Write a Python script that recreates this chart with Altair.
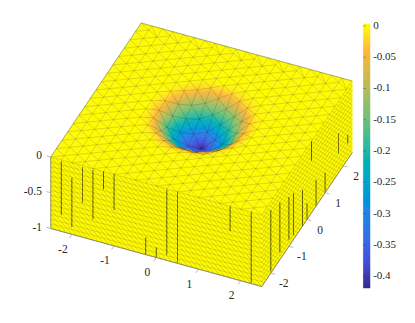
import altair as alt

# ---- readings from the picture ----
X_TICKS = [-2, -1, 0, 1, 2]
Y_TICKS = [-2, -1, 0, 1, 2]
Z_TICKS = [0, -0.5, -1]
CBAR_TICKS = [-0.4, -0.35, -0.3, -0.25, -0.2, -0.15, -0.1, -0.05, 0]
CBAR_DOMAIN = [-0.419, 0.003]
CBAR_COLORS = ["#372a8e", "#4350d8", "#3670e6", "#2289e0", "#0fa5c9", "#1bb3aa",
               "#55bf85", "#93bf6c", "#ccb952", "#fdb83a", "#ffff00"]

# surface heights at mesh nodes, zero elsewhere
EVEN_COL_X = [-1.0, -0.5, 0.0, 0.5, 1.0]          # y = -1.25 ... 1.25 step .3125
EVEN_COL_Z = [
    [0, 0, -.008, -.028, -.04, -.022, -.006, 0, 0],
    [0, -.03, -.15, -.25, -.27, -.195, -.125, -.025, 0],
    [0, -.07, -.22, -.345, -.419, -.30, -.18, -.065, 0],
    [0, -.03, -.15, -.25, -.27, -.195, -.125, -.025, 0],
    [0, 0, -.008, -.028, -.04, -.022, -.006, 0, 0],
]
ODD_COL_X = [-0.75, -0.25, 0.25, 0.75]   # y = -1.40625 ... 1.40625 step .3125
ODD_COL_Z = [
    [0, 0, -.022, -.11, -.18, -.14, -.09, -.018, 0, 0],
    [0, -.02, -.14, -.28, -.36, -.31, -.215, -.115, -.015, 0],
    [0, -.02, -.14, -.28, -.36, -.31, -.215, -.115, -.015, 0],
    [0, 0, -.022, -.11, -.18, -.14, -.09, -.018, 0, 0],
]
# darker vertical edges seen on the walls: (position, z top, z bottom)
FRONT_WALL_DARK = [(-2.25, -.02, -.77), (-2.0, -.21, -.9), (-1.75, -.02, -.52), (-1.5, -.02, -.71),
                   (-1.25, 0, -.25), (-1.0, 0, -.5), (-.25, -.76, -1), (0, -.86, -1), (.25, -.01, -.92),
                   (.5, -.01, -.99), (1.75, 0, -.35), (2.25, 0, -.99)]
RIGHT_WALL_DARK = [(-2, -.12, -.98), (-1.5, -.2, -.9), (-1, -.31, -.91), (-.75, -.35, -.94),
                   (-.25, -.49, -1), (0, -.77, -1), (.25, 0, -.27), (.5, -.63, -1), (1, -.72, -1),
                   (1.75, -.45, -.73), (2.25, -.66, -.78)]
X_MIN, X_MAX = -2.5, 2.5
N_COLS, N_ROWS = 21, 17
WALL_LAYERS = 15
BAR_STEPS = 132
FONT = "Liberation Serif"
INK = "#262626"


def proj(x, y, z=0.0):
    return [201.5 + 42.2 * x + 18.1 * y, 119.0 + 11.6 * x - 26.8 * y - 71.5 * z]


def depth(x, y, z):
    return 1294 * x - 3017 * y + 1341 * z


heights = {}
for cx, row in zip(EVEN_COL_X, EVEN_COL_Z):
    for j, v in enumerate(row):
        heights[(round(cx, 4), round(-1.25 + .3125 * j, 5))] = v
for cx, row in zip(ODD_COL_X, ODD_COL_Z):
    for j, v in enumerate(row):
        heights[(round(cx, 4), round(-1.40625 + .3125 * j, 5))] = v


def node(x, y):
    return (x, y, heights.get((round(x, 4), round(y, 5)), 0.0))


h = (X_MAX - X_MIN) / (N_ROWS - 1)
dx = (X_MAX - X_MIN) / (N_COLS - 1)
columns = []
for i in range(N_COLS):
    x = X_MIN + i * dx
    if i % 2 == 0:
        ys = [X_MIN + j * h for j in range(N_ROWS)]
    else:
        ys = [X_MIN] + [X_MIN + h / 2 + j * h for j in range(N_ROWS - 1)] + [X_MAX]
    columns.append([node(x, y) for y in ys])

tris = []
for a, b in zip(columns[:-1], columns[1:]):
    i, j = 0, 0
    while i < len(a) - 1 or j < len(b) - 1:
        if j == len(b) - 1 or (i < len(a) - 1 and a[i + 1][1] <= b[j + 1][1]):
            tris.append((a[i], b[j], a[i + 1]))
            i += 1
        else:
            tris.append((a[i], b[j], b[j + 1]))
            j += 1


def area(t):
    p = [proj(*n) for n in t]
    return (p[1][0] - p[0][0]) * (p[2][1] - p[0][1]) - (p[1][1] - p[0][1]) * (p[2][0] - p[0][0])


flat_sign = area(((0, 0, 0), (1, 0, 0), (0, 1, 0)))
polys = []
edges = {}
SUB = 6


def mix(t, u, v):
    w = 1 - u - v
    return tuple(t[0][k] * w + t[1][k] * u + t[2][k] * v for k in range(3))


def add_poly(t):
    zm = sum(n[2] for n in t) / 3
    d = depth(sum(n[0] for n in t) / 3, sum(n[1] for n in t) / 3, zm)
    ring = [proj(*n) for n in t] + [proj(*t[0])]
    polys.append((d, {"type": "Feature", "z": round(zm, 4),
                      "geometry": {"type": "Polygon", "coordinates": [ring]}}))


for t in tris:
    if area(t) * flat_sign <= 0:
        continue
    for p, q in ((t[0], t[1]), (t[1], t[2]), (t[2], t[0])):
        edges[tuple(sorted((p, q)))] = (p, q)
    if all(n[2] == 0 for n in t):
        add_poly(t)
    else:
        for i in range(SUB):
            for j in range(SUB - i):
                add_poly((mix(t, i / SUB, j / SUB), mix(t, (i + 1) / SUB, j / SUB), mix(t, i / SUB, (j + 1) / SUB)))
                if i + j < SUB - 1:
                    add_poly((mix(t, (i + 1) / SUB, j / SUB), mix(t, (i + 1) / SUB, (j + 1) / SUB),
                              mix(t, i / SUB, (j + 1) / SUB)))
polys.sort(key=lambda r: r[0])


def line(points):
    return {"type": "Feature", "geometry": {"type": "LineString", "coordinates": points}}


def wall_pt(side, s, z):
    return proj(s, X_MIN, z) if side == 0 else proj(X_MAX, s, z)


walls = []
for side in (0, 1):
    ring = [wall_pt(side, X_MIN, 0), wall_pt(side, X_MAX, 0), wall_pt(side, X_MAX, -1),
            wall_pt(side, X_MIN, -1), wall_pt(side, X_MIN, 0)]
    walls.append({"type": "Feature", "z": 0, "geometry": {"type": "Polygon", "coordinates": [ring]}})

wall_lines = []
for side in (0, 1):
    for k in range(WALL_LAYERS):
        z0, z1 = -k / WALL_LAYERS, -(k + 1) / WALL_LAYERS
        wall_lines.append(line([wall_pt(side, X_MIN, z1), wall_pt(side, X_MAX, z1)]))
        m = 40
        for c in range(m):
            s0 = X_MIN + c * (X_MAX - X_MIN) / m
            s1 = s0 + (X_MAX - X_MIN) / m
            wall_lines.append(line([wall_pt(side, s0, z0), wall_pt(side, s1, z1)]))

dark_lines = [line([wall_pt(0, s, a), wall_pt(0, s, b)]) for s, a, b in FRONT_WALL_DARK]
dark_lines += [line([wall_pt(1, s, a), wall_pt(1, s, b)]) for s, a, b in RIGHT_WALL_DARK]

mesh_lines = [line([proj(*p), proj(*q)]) for p, q in edges.values()]

box = [line([proj(X_MIN, X_MIN, 0), proj(X_MIN, X_MIN, -1), proj(X_MAX, X_MIN, -1), proj(X_MAX, X_MAX, -1)])]
back = [line([proj(X_MIN, X_MIN, 0), proj(X_MIN, X_MAX, 0), proj(X_MAX, X_MAX, 0)])]
tk = []
for v in X_TICKS:
    tk.append(line([proj(v, X_MIN, -1), proj(v, X_MIN - .14, -1)]))
for v in Y_TICKS:
    tk.append(line([proj(X_MAX, v, -1), proj(X_MAX + .1, v, -1)]))
for v in Z_TICKS:
    tk.append(line([proj(X_MIN, X_MIN, v), proj(X_MIN - .1, X_MIN, v)]))


def bar_y(v):
    return 288 - (v - CBAR_DOMAIN[0]) / (CBAR_DOMAIN[1] - CBAR_DOMAIN[0]) * 264


BAR_L, BAR_R = 363.4, 370.0
bar_cells = []
for k in range(BAR_STEPS):
    lo = CBAR_DOMAIN[0] + k * (CBAR_DOMAIN[1] - CBAR_DOMAIN[0]) / BAR_STEPS
    hi = CBAR_DOMAIN[0] + (k + 1) * (CBAR_DOMAIN[1] - CBAR_DOMAIN[0]) / BAR_STEPS
    ring = [[BAR_L, bar_y(lo)], [BAR_R, bar_y(lo)], [BAR_R, bar_y(hi)], [BAR_L, bar_y(hi)], [BAR_L, bar_y(lo)]]
    bar_cells.append({"type": "Feature", "z": (lo + hi) / 2,
                      "geometry": {"type": "Polygon", "coordinates": [ring]}})

bar_ticks = [line([[BAR_L, bar_y(v)], [BAR_L + 2.5, bar_y(v)]]) for v in CBAR_TICKS]
bar_labels = [{"lon": BAR_R + 3.2, "lat": bar_y(v), "t": str(v)} for v in CBAR_TICKS]

labels = []
for v in X_TICKS:
    p = proj(v, X_MIN, -1)
    labels.append({"lon": p[0] - 9, "lat": p[1] + 15.5, "t": str(v)})
for v in Y_TICKS:
    p = proj(X_MAX, v, -1)
    labels.append({"lon": p[0] + 13, "lat": p[1] + 11, "t": str(v)})
zlabels = []
for v in Z_TICKS:
    p = proj(X_MIN, X_MIN, v)
    zlabels.append({"lon": 42, "lat": p[1] - 1, "t": str(v)})

fill_scale = alt.Scale(domain=CBAR_DOMAIN, range=CBAR_COLORS)
PROJ = dict(type="identity", scale=1, translate=[-8, -8])


def geo_lines(values, color, width, opacity):
    return alt.Chart(alt.Data(values=values)).mark_geoshape(
        filled=False, stroke=color, strokeWidth=width, opacity=opacity
    ).project(**PROJ)


def geo_fill(values):
    return alt.Chart(alt.Data(values=values)).mark_geoshape(strokeWidth=0.5).encode(
        color=alt.Color("z:Q", scale=fill_scale, legend=None),
        stroke=alt.Stroke("z:Q", scale=fill_scale, legend=None),
    ).project(**PROJ)


def geo_text(values, size, align):
    return alt.Chart(alt.Data(values=values)).mark_text(
        font=FONT, fontSize=size, color=INK, align=align, baseline="middle"
    ).encode(longitude="lon:Q", latitude="lat:Q", text="t:N").project(**PROJ)


chart = alt.layer(
    geo_fill(walls),
    geo_fill([p[1] for p in polys]),
    geo_fill(bar_cells),
    geo_lines(wall_lines, "#000000", 0.4, 0.32),
    geo_lines(dark_lines, "#000000", 0.65, 0.9),
    geo_lines(mesh_lines, "#000000", 0.45, 0.3),
    geo_lines(back, "#7a7a7a", 0.6, 0.7),
    geo_lines(box, "#7a7a7a", 0.9, 0.9),
    geo_lines(tk, "#9a9a9a", 0.7, 1),
    geo_lines(bar_ticks, "#262626", 0.6, 0.6),
    geo_text(labels, 11.5, "center"),
    geo_text(zlabels, 11.5, "right"),
    geo_text(bar_labels, 11, "left"),
).properties(
    width=399, height=307, padding=0, autosize=alt.AutoSizeParams(type="none"),
    background="white",
).configure_view(stroke=None)

chart.save("out.html", embed_options={"renderer": "svg", "actions": False})
